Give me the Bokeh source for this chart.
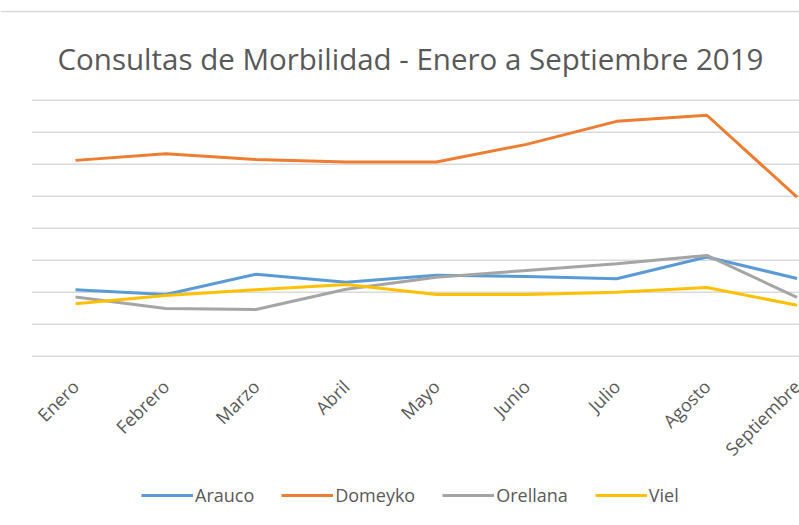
from bokeh.plotting import figure
from bokeh.models import Range1d, Legend, LegendItem, Label, Span
from bokeh.core.properties import value
from bokeh.embed import file_html
from bokeh.resources import INLINE

months = ["Enero", "Febrero", "Marzo", "Abril", "Mayo", "Junio", "Julio", "Agosto", "Septiembre"]
arauco = [208, 193, 256, 231, 253, 249, 242, 310, 243]
domeyko = [612, 633, 615, 607, 607, 662, 734, 753, 497]
orellana = [185, 149, 146, 209, 247, 268, 289, 315, 184]
viel = [164, 190, 208, 224, 193, 193, 200, 215, 159]

series_names = ["Arauco", "Domeyko", "Orellana", "Viel"]
series_values = [arauco, domeyko, orellana, viel]
colors = ["#5B9BD5", "#ED7D31", "#A5A5A5", "#FFC000"]
y_ticks = [0, 100, 200, 300, 400, 500, 600, 700, 800]
title_text = "Consultas de Morbilidad - Enero a Septiembre 2019"

xs = list(range(len(months)))
X0, X1 = -0.8315, 8.027
Y0, Y1 = -529.0, 1111.6

p = figure(width=799, height=525, output_backend="svg", toolbar_location=None,
           x_range=Range1d(X0, X1), y_range=Range1d(Y0, Y1),
           x_axis_location=None, y_axis_location=None,
           min_border_left=0, min_border_right=0, min_border_top=0, min_border_bottom=0)
p.outline_line_color = None
p.xgrid.visible = False
p.ygrid.visible = False

# chart border (top)
p.add_layout(Span(location=1077, dimension="width", line_color="#D9D9D9", line_width=1.5))

# horizontal gridlines (plot area starts half a category left of the first month)
p.segment(x0=[xs[0] - 0.48] * len(y_ticks), x1=[X1] * len(y_ticks), y0=y_ticks, y1=y_ticks,
          line_color="#D9D9D9", line_width=1.5)

# category labels
p.text(x=xs, y=[y_ticks[0]] * len(xs), text=months, angle=0.785398,
       text_align="right", text_baseline="middle", y_offset=27,
       text_font=value("Open Sans"), text_font_size="18px", text_color="#595959")

# series
items = []
for name, vals, c in zip(series_names, series_values, colors):
    r = p.line(xs, vals, line_color=c, line_width=3)
    items.append(LegendItem(label=name, renderers=[r]))

# title
p.add_layout(Label(x=3.714, y=929.4, text=title_text, text_align="center",
                   text_baseline="alphabetic", text_font="Open Sans",
                   text_font_size="29.5px", text_color="#595959"))

legend = Legend(items=items, orientation="horizontal", location=(141, 18),
                glyph_width=52, glyph_height=20, label_standoff=2, spacing=27,
                padding=0, margin=0, border_line_color=None, background_fill_alpha=0,
                label_text_font="Open Sans", label_text_font_size="18px",
                label_text_color="#595959")
p.add_layout(legend, "center")

open("out.html", "w").write(file_html(p, INLINE))
